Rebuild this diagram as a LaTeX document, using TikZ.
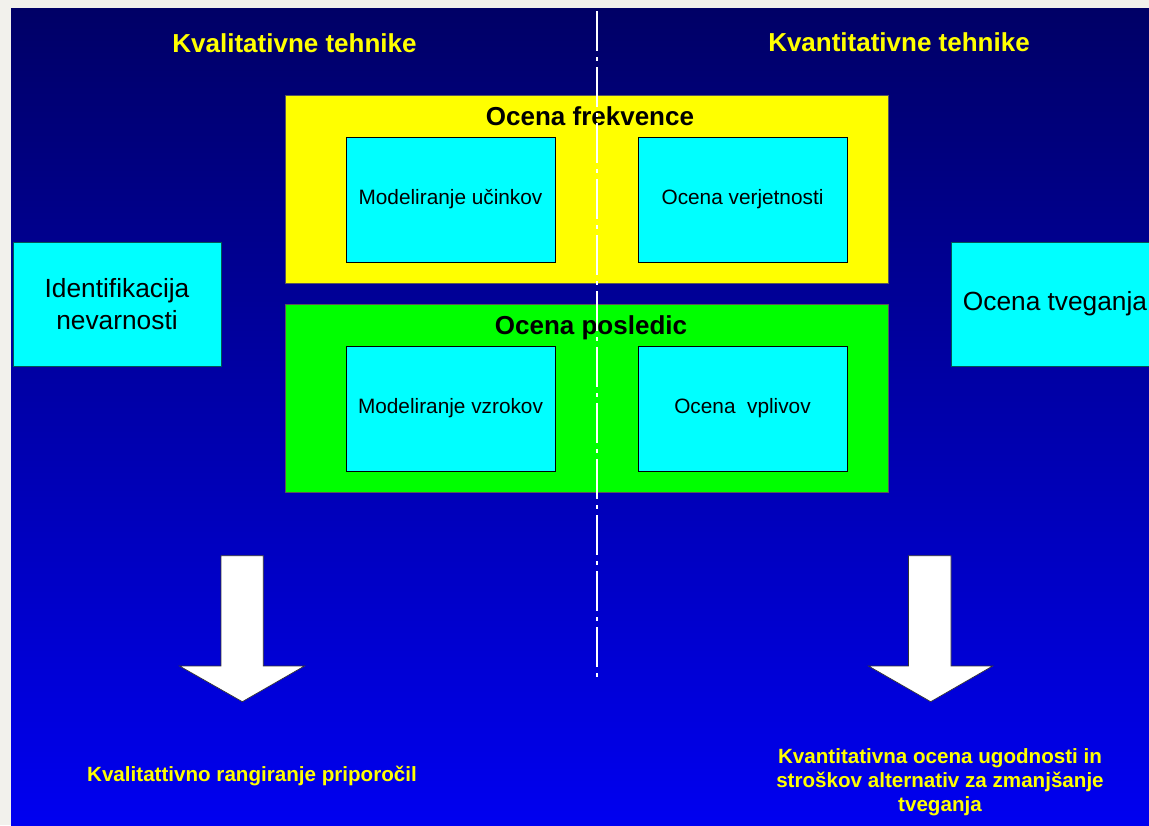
\documentclass[tikz,border=0pt]{standalone}
\usepackage{fontspec}
\setmainfont{Liberation Sans}
\definecolor{margin}{HTML}{F2F1EC}
\definecolor{navytop}{HTML}{000066}
\definecolor{bluebot}{HTML}{0000F0}
\definecolor{ylw}{HTML}{FFFF00}
\definecolor{grn}{HTML}{00FF00}
\definecolor{cyn}{HTML}{00FFFF}
\definecolor{tealedge}{HTML}{005555}
\begin{document}
\begin{tikzpicture}[x=1pt,y=-1pt,
  title/.style={text=ylw, font=\fontsize{26}{30}\selectfont\bfseries, anchor=base, inner sep=0pt},
  grouplabel/.style={text=black, font=\fontsize{26}{30}\selectfont\bfseries, anchor=base, inner sep=0pt},
  groupbox/.style={draw=black!65, line width=0.6pt, inner sep=0pt, minimum width=603pt, minimum height=188pt},
  smallbox/.style={fill=cyn, draw=black, line width=0.7pt, inner sep=0pt, minimum width=209pt, minimum height=125pt,
     font=\fontsize{20.8}{24}\selectfont, text=black},
  bigbox/.style={fill=cyn, draw=tealedge, line width=0.7pt, inner sep=0pt, minimum width=208pt, minimum height=124pt,
     font=\fontsize{26.3}{32}\selectfont, text=black, align=center},
  result/.style={text=ylw, font=\fontsize{20.6}{24}\selectfont\bfseries, align=center, inner sep=0pt},
  blockarrow/.style={fill=white, draw=black!80, line width=0.7pt, line join=miter},
  divider/.style={draw=white, line width=1.6pt, dash pattern=on 40pt off 6pt on 4pt off 6pt}
]
\useasboundingbox (0,0) rectangle (1149,825);
\clip (0,0) rectangle (1149,825);
\fill[margin] (0,0) rectangle (1149,825);
\shade[top color=navytop, bottom color=bluebot] (11,8) rectangle (1149,825);

% titles
\node[title] (tqual) at (294.5,52) {Kvalitativne tehnike};
\node[title] (tquan) at (899,51) {Kvantitativne tehnike};

% group boxes
\node[groupbox, fill=ylw] (freq) at (586.5,189) {};
\node[grouplabel] (freqlabel) at (590,125) {Ocena frekvence};
\node[groupbox, fill=grn] (cons) at (586.5,398) {};
\node[grouplabel] (conslabel) at (591,334) {Ocena posledic};

% inner boxes
\node[smallbox] (ucinki) at (450.5,199.5) {Modeliranje učinkov};
\node[smallbox] (verj) at (742.5,199.5) {Ocena verjetnosti};
\node[smallbox] (vzroki) at (450.5,408.5) {Modeliranje vzrokov};
\node[smallbox] (vplivi) at (742.5,408.5) {Ocena\ \ vplivov};

% side boxes
\node[bigbox] (ident) at (117,304) {Identifikacija\\nevarnosti};
\node[bigbox] (tveg) at (1055,304) {Ocena tveganja};

% divider
\coordinate (dtop) at (597,11);
\coordinate (dbot) at (597,682);
\draw[divider] (dtop) -- (dbot);

% block arrows
\draw[blockarrow] (221,555.7) -- (263.3,555.7) -- (263.3,666) -- (304.5,666) -- (242.3,701.7) -- (179.5,666) -- (221,666) -- cycle;
\draw[blockarrow] (908.5,555.7) -- (951,555.7) -- (951,666) -- (992.7,666) -- (930.7,701.7) -- (868.5,666) -- (908.5,666) -- cycle;

% results
\node[result, anchor=base] (rleft) at (252,781) {Kvalitattivno rangiranje priporočil};
\node[result] (rright) at (940,782) {Kvantitativna ocena ugodnosti in\\stroškov alternativ za zmanjšanje\\tveganja};
\end{tikzpicture}
\end{document}
